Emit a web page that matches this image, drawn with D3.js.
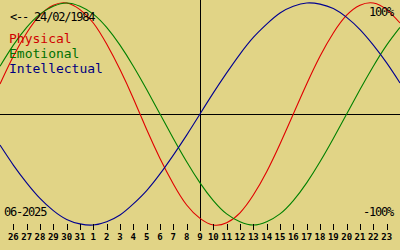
<!DOCTYPE html>
<html>
<head>
<meta charset="utf-8">
<script src="https://cdn.jsdelivr.net/npm/d3@7"></script>
<style>
  body { margin: 0; background: #e1d486; }
  svg { display: block; }
  text { font-family: "DejaVu Sans Mono", monospace; }
</style>
</head>
<body>
<div id="vis"></div>
<script>
// Etiquetas de los dias (26 mayo -> 23 junio 2025)
const dias = ["26", "27", "28", "29", "30", "31", "1", "2", "3", "4", "5", "6", "7", "8", "9",
  "10", "11", "12", "13", "14", "15", "16", "17", "18", "19", "20", "21", "22", "23"];

// Valores, un punto por dia desde el 25/05 hasta el 24/06
const fisico = [0.27, 0.52, 0.73, 0.89, 0.98, 1.0, 0.94, 0.82, 0.63, 0.4, 0.14, -0.14, -0.4, -0.63, -0.82,
  -0.94, -1.0, -0.98, -0.89, -0.73, -0.52, -0.27, 0, 0.27, 0.52, 0.73, 0.89, 0.98, 1.0, 0.94, 0.82];
const emocional = [0.43, 0.62, 0.78, 0.9, 0.97, 1.0, 0.97, 0.9, 0.78, 0.62, 0.43, 0.22, 0, -0.22, -0.43,
  -0.62, -0.78, -0.9, -0.97, -1.0, -0.97, -0.9, -0.78, -0.62, -0.43, -0.22, 0, 0.22, 0.43, 0.62, 0.78];
const intelectual = [-0.28, -0.46, -0.62, -0.76, -0.87, -0.95, -0.99, -1.0, -0.97, -0.91, -0.81, -0.69, -0.54, -0.37, -0.19,
  0, 0.19, 0.37, 0.54, 0.69, 0.81, 0.91, 0.97, 1.0, 0.99, 0.95, 0.87, 0.76, 0.62, 0.46, 0.28];

const series = [
  { name: "Physical", values: fisico, color: "#e00000", text: "#d00000" },
  { name: "Emotional", values: emocional, color: "#008000", text: "#007000" },
  { name: "Intellectual", values: intelectual, color: "#000090", text: "#000080" },
];

const WIDTH = 400;
const HEIGHT = 250;

const SVG = d3.select("#vis")
  .append("svg")
  .attr("width", WIDTH)
  .attr("height", HEIGHT);

SVG.append("rect")
  .attr("width", WIDTH)
  .attr("height", HEIGHT)
  .attr("fill", "#e1d486");

const x = d3.scaleLinear().domain([0, 30]).range([0, WIDTH]);
const y = d3.scaleLinear().domain([-1, 1]).range([225, 3]);

// ejes cruzados: linea del cero y linea de hoy (9 junio)
SVG.append("line")
  .attr("x1", 0).attr("x2", WIDTH)
  .attr("y1", Math.round(y(0)) + 0.5).attr("y2", Math.round(y(0)) + 0.5)
  .attr("stroke", "black");
SVG.append("line")
  .attr("x1", Math.round(x(15)) + 0.5).attr("x2", Math.round(x(15)) + 0.5)
  .attr("y1", 0).attr("y2", 231)
  .attr("stroke", "black");

// curvas
const linea = d3.line()
  .x((d, i) => x(i))
  .y(d => y(d))
  .curve(d3.curveNatural);

SVG.append("g")
  .selectAll("path")
  .data(series)
  .join("path")
  .attr("d", d => linea(d.values))
  .attr("fill", "none")
  .attr("stroke", d => d.color)
  .attr("stroke-width", 1.1);

// eje de dias
const eje = SVG.append("g").attr("id", "ejeX");
eje.selectAll("line")
  .data(dias)
  .join("line")
  .attr("x1", (d, i) => Math.round(x(i + 1)) + 0.5)
  .attr("x2", (d, i) => Math.round(x(i + 1)) + 0.5)
  .attr("y1", 224)
  .attr("y2", 230)
  .attr("stroke", "black");
eje.selectAll("text")
  .data(dias)
  .join("text")
  .attr("x", (d, i) => x(i + 1))
  .attr("y", 239.5)
  .attr("text-anchor", "middle")
  .attr("font-size", 9)
  .attr("font-weight", "bold")
  .attr("fill", "black")
  .text(d => d);

// textos
const chico = (txt, px, py, anchor) => SVG.append("text")
  .attr("x", px)
  .attr("y", py)
  .attr("text-anchor", anchor)
  .attr("font-size", 12)
  .attr("letter-spacing", -1.2)
  .attr("fill", "black")
  .text(txt);

chico("<-- 24/02/1984", 10, 21, "start");
chico("100%", 393, 16, "end");
chico("-100%", 393, 216, "end");
chico("06-2025", 4, 216, "start");

SVG.append("g")
  .selectAll("text")
  .data(series)
  .join("text")
  .attr("x", 9)
  .attr("y", (d, i) => 43 + i * 15)
  .attr("font-size", 13)
  .attr("fill", d => d.text)
  .text(d => d.name);
</script>
</body>
</html>
